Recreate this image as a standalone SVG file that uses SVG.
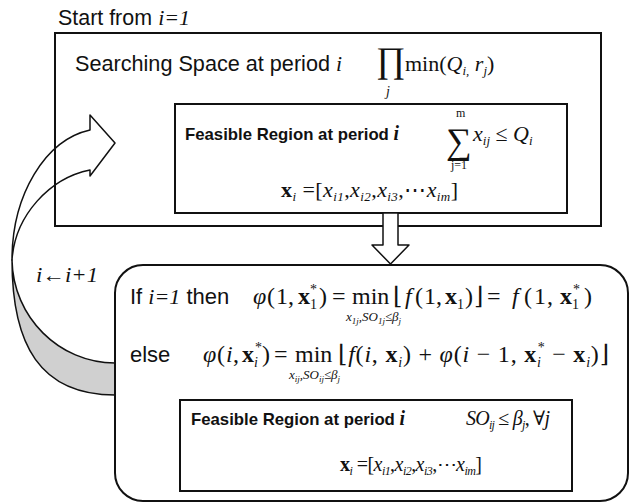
<svg xmlns="http://www.w3.org/2000/svg" width="631" height="503" viewBox="0 0 631 503">
<style>
.sans{font-family:"Liberation Sans",Arial,sans-serif;fill:#111}
.serif{font-family:"Liberation Serif","DejaVu Serif",serif;fill:#111}
.b{font-weight:bold}
.i{font-style:italic}
.box{fill:none;stroke:#111;stroke-width:2}
.arr{stroke:#111;stroke-width:1.5;stroke-linejoin:round}
.sub{font-size:14px}
</style>
<rect width="631" height="503" fill="#fff"/>

<g id="connectors">
  <path class="arr" fill="#fff" d="M 12,260 C 12,195 45,140 90,130 L 90,115 L 115,143 L 90,176 L 90,170 C 50,178 15,215 12,260 Z"/>
  <path class="arr" fill="#d0d0d0" d="M 12,260 C 13,317 59,363 115,363 L 115,395 C 40,395 12,345 12,260 Z"/>
  <text x="36" y="282" class="serif i" font-size="20" textLength="62" lengthAdjust="spacingAndGlyphs">i←i+1</text>
</g>

<g id="start-label">
  <text x="58" y="25" class="sans" font-size="22"><tspan textLength="94" lengthAdjust="spacingAndGlyphs">Start from</tspan> <tspan class="serif i">i=1</tspan></text>
</g>

<g id="searching-space">
  <rect class="box" x="55" y="33" width="546" height="193"/>
  <text x="75" y="71" class="sans" font-size="22" textLength="267" lengthAdjust="spacingAndGlyphs">Searching Space at period <tspan class="serif i">i</tspan></text>
  <text x="376" y="72" class="serif" font-size="36">∏</text>
  <text x="386" y="96" class="serif i" font-size="14">j</text>
  <text x="405" y="71" class="serif" font-size="22">min(<tspan class="i">Q</tspan><tspan class="i" font-size="13" dy="4">i,</tspan><tspan class="i" dy="-4"> r</tspan><tspan class="i" font-size="13" dy="4">j</tspan><tspan dy="-4">)</tspan></text>
</g>

<g id="feasible-region-1">
  <rect class="box" x="175" y="104" width="392" height="109"/>
  <text x="185" y="140" class="sans b" font-size="17" textLength="214" lengthAdjust="spacingAndGlyphs">Feasible Region at period <tspan class="serif i" font-size="20">i</tspan></text>
  <text x="456" y="117" class="serif" font-size="12">m</text>
  <text x="446" y="153" class="serif" font-size="36">∑</text>
  <text x="451" y="169" class="serif" font-size="12">j=1</text>
  <text x="473" y="141" class="serif" font-size="22"><tspan class="i">x</tspan><tspan class="i" font-size="13" dy="4">ij</tspan><tspan dy="-4"> ≤ </tspan><tspan class="i">Q</tspan><tspan class="i" font-size="13" dy="4">i</tspan></text>
  <text x="281" y="197" class="serif" font-size="22" textLength="177" lengthAdjust="spacing"><tspan class="b">x</tspan><tspan class="i" font-size="13" dy="4">i</tspan><tspan dy="-4"> =[</tspan><tspan class="i">x</tspan><tspan class="i" font-size="13" dy="4">i1</tspan><tspan dy="-4">,</tspan><tspan class="i">x</tspan><tspan class="i" font-size="13" dy="4">i2</tspan><tspan dy="-4">,</tspan><tspan class="i">x</tspan><tspan class="i" font-size="13" dy="4">i3</tspan><tspan dy="-4">,⋯</tspan><tspan class="i">x</tspan><tspan class="i" font-size="13" dy="4">im</tspan><tspan dy="-4">]</tspan></text>
</g>

<g id="down-arrow">
  <polygon class="arr" fill="#fff" points="383,213 398,213 398,245 409,245 390.5,264 372,245 383,245"/>
</g>

<g id="dp-step">
  <rect class="box" x="115" y="265" width="513" height="236" rx="28" ry="28"/>
  <text x="130" y="304" class="sans" font-size="22">If <tspan class="serif i">i=1</tspan> then</text>
  <text class="serif" font-size="24" y="304"><tspan class="i" x="253">φ</tspan><tspan x="267">(</tspan><tspan x="276">1</tspan><tspan x="288">,</tspan><tspan class="b" x="298">x</tspan><tspan class="sub" x="310" y="309">1</tspan><tspan class="sub" x="310" y="294">*</tspan><tspan x="319" y="304">)</tspan><tspan x="332">=</tspan></text>
  <text x="352" y="304" class="serif" font-size="24">min</text>
  <text x="346" y="321" class="serif i" font-size="13">x<tspan font-size="9" dy="3">1j</tspan><tspan dy="-3">,SO</tspan><tspan font-size="9" dy="3">1j</tspan><tspan dy="-3">≤β</tspan><tspan font-size="9" dy="3">j</tspan></text>
  <text class="serif" font-size="24" y="304"><tspan x="393">⌊</tspan><tspan class="i" x="405">f</tspan><tspan x="415">(</tspan><tspan x="424">1</tspan><tspan x="436">,</tspan><tspan class="b" x="445">x</tspan><tspan class="sub" x="457" y="309">1</tspan><tspan x="465" y="304">)</tspan><tspan x="474">⌋</tspan><tspan x="487">=</tspan></text>
  <text class="serif" font-size="24" y="304"><tspan class="i" x="512">f</tspan><tspan x="524">(</tspan><tspan x="534">1</tspan><tspan x="547">,</tspan><tspan class="b" x="560">x</tspan><tspan class="sub" x="572" y="309">1</tspan><tspan class="sub" x="573" y="294">*</tspan><tspan x="584" y="304">)</tspan></text>

  <text x="130" y="362" class="sans" font-size="22">else</text>
  <text class="serif" font-size="24" y="362"><tspan class="i" x="203">φ</tspan><tspan x="217">(</tspan><tspan class="i" x="226">i</tspan><tspan x="233">,</tspan><tspan class="b" x="242">x</tspan><tspan class="sub i" x="254" y="367">i</tspan><tspan class="sub" x="255" y="352">*</tspan><tspan x="262" y="362">)</tspan><tspan x="274">=</tspan></text>
  <text x="295" y="362" class="serif" font-size="24">min</text>
  <text x="289" y="379" class="serif i" font-size="13">x<tspan font-size="9" dy="3">ij</tspan><tspan dy="-3">,SO</tspan><tspan font-size="9" dy="3">ij</tspan><tspan dy="-3">≤β</tspan><tspan font-size="9" dy="3">j</tspan></text>
  <text x="338" y="362" class="serif" font-size="24" textLength="271" lengthAdjust="spacing">⌊<tspan class="i">f</tspan>(<tspan class="i">i</tspan>, <tspan class="b">x</tspan><tspan class="i" font-size="14" dy="5">i</tspan><tspan dy="-5">) + </tspan><tspan class="i">φ</tspan>(<tspan class="i">i</tspan> − 1, <tspan class="b">x</tspan><tspan class="i" font-size="14" dy="5">i</tspan><tspan font-size="14" dx="-4" dy="-15">*</tspan><tspan dy="10"> − </tspan><tspan class="b">x</tspan><tspan class="i" font-size="14" dy="5">i</tspan><tspan dy="-5">)⌋</tspan></text>
</g>

<g id="feasible-region-2">
  <rect class="box" x="180" y="400" width="392" height="91"/>
  <text x="191" y="425" class="sans b" font-size="17" textLength="214" lengthAdjust="spacingAndGlyphs">Feasible Region at period <tspan class="serif i" font-size="20">i</tspan></text>
  <text x="466" y="425" class="serif" font-size="20" textLength="84" lengthAdjust="spacing"><tspan class="i">SO</tspan><tspan class="i" font-size="12" dy="4">ij</tspan><tspan dy="-4"> ≤ </tspan><tspan class="i">β</tspan><tspan class="i" font-size="12" dy="4">j</tspan><tspan dy="-4">, ∀</tspan><tspan class="i">j</tspan></text>
  <text x="340" y="471" class="serif" font-size="20" textLength="142" lengthAdjust="spacing"><tspan class="b">x</tspan><tspan class="i" font-size="12" dy="4">i</tspan><tspan dy="-4"> =[</tspan><tspan class="i">x</tspan><tspan class="i" font-size="12" dy="4">i1</tspan><tspan dy="-4">,</tspan><tspan class="i">x</tspan><tspan class="i" font-size="12" dy="4">i2</tspan><tspan dy="-4">,</tspan><tspan class="i">x</tspan><tspan class="i" font-size="12" dy="4">i3</tspan><tspan dy="-4">,⋯</tspan><tspan class="i">x</tspan><tspan class="i" font-size="12" dy="4">im</tspan><tspan dy="-4">]</tspan></text>
</g>
</svg>
